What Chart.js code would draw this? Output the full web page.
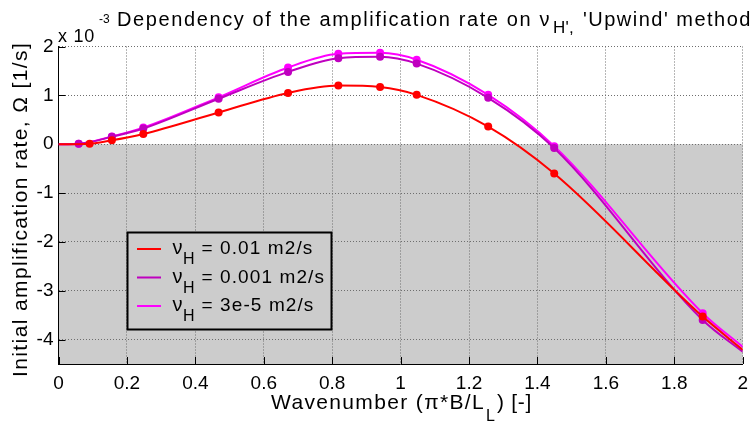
<!DOCTYPE html>
<html>
<head>
<meta charset="utf-8">
<script src="https://cdn.jsdelivr.net/npm/chart.js@4"></script>
<style>
  html, body { margin: 0; padding: 0; background: #fff; }
  #wrap { width: 756px; height: 423px; }
</style>
</head>
<body>
<div id="wrap"><canvas id="ampChart" width="756" height="423"></canvas></div>
<script>
// ===== DATA (amplification rate in units of 1e-3 1/s) =====
const xTicks = [0, 0.2, 0.4, 0.6, 0.8, 1, 1.2, 1.4, 1.6, 1.8, 2];
const xTickLabels = ['0', '0.2', '0.4', '0.6', '0.8', '1', '1.2', '1.4', '1.6', '1.8', '2'];
const yTicks = [-4, -3, -2, -1, 0, 1, 2];
const yTickLabels = ['-4', '-3', '-2', '-1', '0', '1', '2'];

const nuLabels = ['0.01 m2/s', '0.001 m2/s', '3e-5 m2/s'];

const xRed = [0, 0.091, 0.156, 0.248, 0.468, 0.671, 0.818, 0.940, 1.047, 1.256, 1.449, 1.883, 2.0];
const yRed = [0, 0.01, 0.08, 0.21, 0.65, 1.05, 1.20, 1.17, 1.01, 0.36, -0.60, -3.53, -4.21];

const xPurple = [0, 0.059, 0.156, 0.248, 0.468, 0.671, 0.818, 0.940, 1.047, 1.256, 1.449, 1.883, 2.0];
const yPurple = [0, 0.01, 0.15, 0.32, 0.93, 1.48, 1.76, 1.79, 1.65, 0.95, -0.08, -3.60, -4.25];

const xMagenta = [0, 0.059, 0.156, 0.248, 0.468, 0.671, 0.818, 0.940, 1.047, 1.256, 1.449, 1.883, 2.0];
const yMagenta = [0, 0.01, 0.16, 0.34, 0.96, 1.57, 1.85, 1.87, 1.73, 1.01, -0.04, -3.46, -4.15];

const colors = ['#ff0000', '#bf00bf', '#ff00ff'];
const FONT = '"Liberation Sans", Arial, Helvetica, sans-serif';

function pts(xs, ys) {
  return xs.map((x, i) => ({ x: x, y: ys[i] }));
}
// markers only on the computed points, not on the curve ends
function radii(xs) {
  return xs.map((x, i) => (i === 0 || i === xs.length - 1) ? 0 : 4);
}

function makeSet(label, xs, ys, color) {
  return {
    label: label,
    data: pts(xs, ys),
    borderColor: color,
    backgroundColor: color,
    borderWidth: 2,
    pointRadius: radii(xs),
    pointHoverRadius: 4,
    pointBorderWidth: 0,
    cubicInterpolationMode: 'monotone',
    fill: false
  };
}

// draw text stretched (by letter spacing) to a given width, returns end x
function fitText(ctx, text, x, y, width) {
  ctx.letterSpacing = '0px';
  const natural = ctx.measureText(text).width;
  const sp = (width - natural) / text.length;
  ctx.letterSpacing = sp.toFixed(2) + 'px';
  ctx.fillText(text, x, y);
  ctx.letterSpacing = '0px';
  return x + width;
}

// ===== PLUGIN: grey half, ticks, texts, legend =====
const decor = {
  id: 'decor',
  beforeDraw(chart) {
    const { ctx, chartArea: a, scales } = chart;
    ctx.save();
    ctx.fillStyle = '#ffffff';
    ctx.fillRect(0, 0, chart.width, chart.height);
    const y0 = scales.y.getPixelForValue(0);
    ctx.fillStyle = '#cccccc';
    ctx.fillRect(a.left, y0, a.right - a.left, a.bottom - y0);
    ctx.restore();
  },
  beforeDatasetsDraw(chart) {
    const { ctx, chartArea: a, scales } = chart;
    ctx.save();
    ctx.strokeStyle = '#000';
    ctx.lineWidth = 1;
    ctx.beginPath();
    xTicks.forEach(v => {
      const px = Math.round(scales.x.getPixelForValue(v)) + 0.5;
      ctx.moveTo(px, a.bottom);
      ctx.lineTo(px, a.bottom - 7);
    });
    yTicks.forEach(v => {
      const py = Math.round(scales.y.getPixelForValue(v)) + 0.5;
      ctx.moveTo(a.left, py);
      ctx.lineTo(a.left + 7, py);
    });
    ctx.stroke();
    ctx.restore();
  },
  afterDraw(chart) {
    const { ctx, chartArea: a } = chart;
    ctx.save();
    ctx.fillStyle = '#000';
    ctx.textBaseline = 'alphabetic';
    ctx.textAlign = 'left';

    // exponent
    ctx.font = '18px ' + FONT;
    fitText(ctx, 'x 10', 58, 42, 37);
    ctx.font = '12px ' + FONT;
    ctx.fillText('-3', 99, 23);

    // title
    ctx.font = '20px ' + FONT;
    fitText(ctx, 'Dependency of the amplification rate on \u03bd', 117, 26, 434);
    ctx.font = '17px ' + FONT;
    fitText(ctx, "H',", 553, 33, 21);
    ctx.font = '20px ' + FONT;
    fitText(ctx, "'Upwind' method", 583, 26, 169);

    // x label
    ctx.font = '21px ' + FONT;
    fitText(ctx, 'Wavenumber (\u03c0*B/L', 271, 408.5, 214);
    ctx.font = '16px ' + FONT;
    ctx.fillText('L', 486, 421);
    ctx.font = '21px ' + FONT;
    fitText(ctx, ') [-]', 497, 408.5, 35);

    // y label
    ctx.save();
    ctx.translate(27, 377);
    ctx.rotate(-Math.PI / 2);
    ctx.font = '21px ' + FONT;
    fitText(ctx, 'Initial amplification rate, \u03a9 [1/s]', 0, 0, 335);
    ctx.restore();

    // legend
    const bx = 127.5, by = 232.5, bw = 204, bh = 97;
    ctx.fillStyle = '#cccccc';
    ctx.fillRect(bx, by, bw, bh);
    ctx.strokeStyle = '#000';
    ctx.lineWidth = 2;
    ctx.strokeRect(bx, by, bw, bh);
    chart.data.datasets.forEach((ds, i) => {
      const ly = 249 + i * 28.5;
      ctx.strokeStyle = ds.borderColor;
      ctx.lineWidth = 2;
      ctx.beginPath();
      ctx.moveTo(137, ly);
      ctx.lineTo(161, ly);
      ctx.stroke();
      ctx.fillStyle = '#000';
      ctx.font = '20px ' + FONT;
      ctx.fillText('\u03bd', 172.5, ly + 5);
      ctx.font = '16px ' + FONT;
      ctx.fillText('H', 183, ly + 15);
      ctx.font = '19px ' + FONT;
      ctx.letterSpacing = '1.1px';
      ctx.fillText('= ' + nuLabels[i], 201.5, ly + 5);
      ctx.letterSpacing = '0px';
    });
    ctx.restore();
  }
};

// ===== CHART =====
const ampCtx = document.getElementById('ampChart').getContext('2d');

const gridOpts = { color: '#6e6e6e', lineWidth: 1, drawTicks: false };
const borderOpts = { display: true, color: '#000', width: 1, dash: [1, 2] };

new Chart(ampCtx, {
  type: 'line',
  data: {
    datasets: [
      makeSet('nu_H = 0.01 m2/s', xRed, yRed, colors[0]),
      makeSet('nu_H = 0.001 m2/s', xPurple, yPurple, colors[1]),
      makeSet('nu_H = 3e-5 m2/s', xMagenta, yMagenta, colors[2])
    ]
  },
  options: {
    responsive: false,
    animation: false,
    devicePixelRatio: 1,
    layout: { padding: { top: 46.5, right: 8.5, left: 0, bottom: 0 } },
    plugins: {
      legend: { display: false },
      title: { display: false },
      tooltip: { enabled: false }
    },
    scales: {
      x: {
        type: 'linear',
        min: 0,
        max: 2,
        afterBuildTicks: s => { s.ticks = xTicks.map(v => ({ value: v })); },
        afterFit: s => { s.height = 59; },
        grid: gridOpts,
        border: borderOpts,
        ticks: {
          padding: 8,
          maxRotation: 0,
          autoSkip: false,
          color: '#000',
          font: { family: FONT, size: 19 },
          callback: (v, i) => xTickLabels[i]
        }
      },
      y: {
        min: -4.5,
        max: 2,
        afterBuildTicks: s => { s.ticks = yTicks.map(v => ({ value: v })); },
        afterFit: s => { s.width = 58.5; },
        grid: gridOpts,
        border: borderOpts,
        ticks: {
          padding: 5,
          autoSkip: false,
          color: '#000',
          font: { family: FONT, size: 19 },
          callback: (v, i) => yTickLabels[i]
        }
      }
    }
  },
  plugins: [decor]
});
</script>
</body>
</html>
